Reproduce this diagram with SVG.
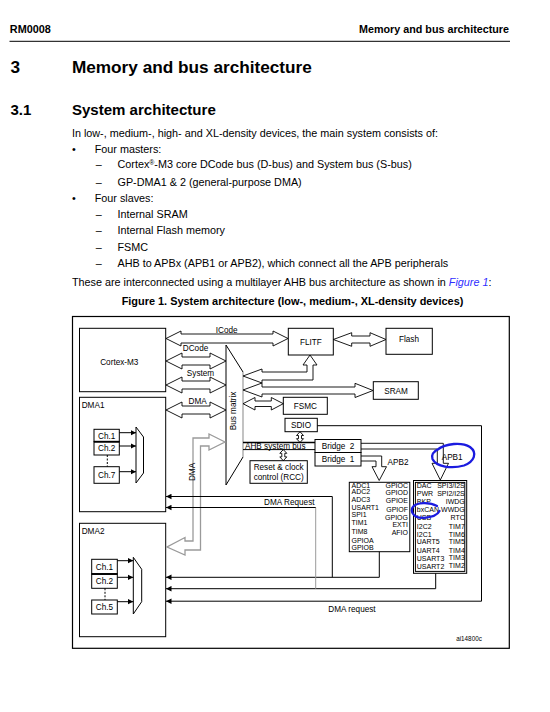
<svg xmlns="http://www.w3.org/2000/svg" width="550" height="712" viewBox="0 0 550 712">
<style>
text{font-family:"Liberation Sans",Arial,sans-serif;fill:#000}
.b{font-weight:bold}
.body{font-size:10.8px}
.lbl{font-size:8.2px}
.sm{font-size:7px}
.mid{text-anchor:middle}
.end{text-anchor:end}
.box{fill:none;stroke:#000;stroke-width:1}
.ln{fill:none;stroke:#000;stroke-width:1}
.hol{fill:none;stroke:#000;stroke-width:0.9}
.gry{fill:none;stroke:#9a9a9a;stroke-width:1.3}
.arr{fill:none;stroke:#000;stroke-width:1;marker-end:url(#ah)}
.blue{fill:none;stroke:#1b1bdf;stroke-width:2.3;stroke-linecap:round;stroke-linejoin:round}
</style>
<defs>
<marker id="ah" viewBox="0 0 6 6" refX="6" refY="3" markerWidth="5.5" markerHeight="6" markerUnits="userSpaceOnUse" orient="auto">
<path d="M0,0 L6,3 L0,6 Z" fill="#000"/>
</marker>
</defs>
<rect width="550" height="712" fill="#fff"/>

<g id="page">
<text class="b" x="9.8" y="33.3" font-size="10px" textLength="41" lengthAdjust="spacingAndGlyphs">RM0008</text>
<text class="b end" x="509" y="33.3" font-size="10.6px" textLength="150" lengthAdjust="spacingAndGlyphs">Memory and bus architecture</text>
<line x1="9.5" y1="41.3" x2="510" y2="41.3" stroke="#000" stroke-width="1"/>
<text class="b" x="10.5" y="73.3" font-size="17.2px">3</text>
<text class="b" x="71.9" y="73.3" font-size="17.2px" textLength="240" lengthAdjust="spacingAndGlyphs">Memory and bus architecture</text>
<text class="b" x="10.5" y="114.5" font-size="15px">3.1</text>
<text class="b" x="71.9" y="114.5" font-size="15px" textLength="143.9" lengthAdjust="spacingAndGlyphs">System architecture</text>
<text class="body" x="71.9" y="136.6">In low-, medium-, high- and XL-density devices, the main system consists of:</text>
<text class="body" x="71.9" y="152.5">•</text>
<text class="body" x="94.7" y="152.5">Four masters:</text>
<text class="body" x="95.8" y="168.4">–</text>
<text class="body" x="117.5" y="168.4">Cortex<tspan font-size="6.8px" dy="-3.7">®</tspan><tspan dy="3.7">-M3 core DCode bus (D-bus) and System bus (S-bus)</tspan></text>
<text class="body" x="95.8" y="185.6">–</text>
<text class="body" x="117.5" y="185.6">GP-DMA1 &amp; 2 (general-purpose DMA)</text>
<text class="body" x="71.9" y="201.6">•</text>
<text class="body" x="94.7" y="201.6">Four slaves:</text>
<text class="body" x="95.8" y="217.6">–</text>
<text class="body" x="117.5" y="217.6">Internal SRAM</text>
<text class="body" x="95.8" y="233.6">–</text>
<text class="body" x="117.5" y="233.6">Internal Flash memory</text>
<text class="body" x="95.8" y="250.5">–</text>
<text class="body" x="117.5" y="250.5">FSMC</text>
<text class="body" x="95.8" y="267">–</text>
<text class="body" x="117.5" y="267">AHB to APBx (APB1 or APB2), which connect all the APB peripherals</text>
<text class="body" x="71.9" y="286">These are interconnected using a multilayer AHB bus architecture as shown in <tspan fill="#2f2fff" font-style="italic">Figure 1</tspan>:</text>
<text class="b mid" x="292.5" y="304.8" font-size="10.6px" textLength="341.7" lengthAdjust="spacingAndGlyphs">Figure 1. System architecture (low-, medium-, XL-density devices)</text>
<rect id="frame" x="72.5" y="316.5" width="436.8" height="331.8" fill="none" stroke="#000" stroke-width="1.2"/>
<text class="mid" x="469" y="641" font-size="6.3px">ai14800c</text>
</g>

<g id="cortex-m3">
<rect class="box" x="79.5" y="328.3" width="86.2" height="63.4"/>
<text class="lbl mid" x="119.3" y="364.6" font-size="8.5px">Cortex-M3</text>
</g>

<g id="dma1">
<rect class="box" x="79.5" y="397.3" width="86.2" height="114.4"/>
<text class="lbl" x="81.7" y="407.8">DMA1</text>
<rect class="box" x="94" y="429.3" width="25.3" height="12.4"/>
<rect class="box" x="94" y="441.7" width="25.3" height="13.3"/>
<line x1="94" y1="441.7" x2="119.3" y2="441.7" stroke="#000" stroke-width="1.8"/>
<rect class="box" x="94" y="466.7" width="25.3" height="16.6"/>
<line x1="107.3" y1="455" x2="107.3" y2="466.7" stroke="#000" stroke-width="1" stroke-dasharray="2,1.5"/>
<text class="lbl mid" x="106.7" y="438.6">Ch.1</text>
<text class="lbl mid" x="106.7" y="451.4">Ch.2</text>
<text class="lbl mid" x="106.7" y="478">Ch.7</text>
<path class="ln" d="M136,427 L143.5,437 L143.5,473 L136,483 Z"/>
<path class="arr" d="M119.3,432.7 H136"/>
<path class="arr" d="M119.3,446 H136"/>
<path class="arr" d="M119.3,471.7 H136"/>
</g>

<g id="dma2">
<rect class="box" x="79.5" y="523.3" width="86.2" height="113.4"/>
<text class="lbl" x="81.7" y="534.2">DMA2</text>
<rect class="box" x="91.7" y="559.3" width="25.6" height="14.7"/>
<rect class="box" x="91.7" y="574" width="25.6" height="14.3"/>
<line x1="91.7" y1="574" x2="117.3" y2="574" stroke="#000" stroke-width="1.8"/>
<rect class="box" x="91.7" y="600" width="25.6" height="14"/>
<line x1="105" y1="588.3" x2="105" y2="600" stroke="#000" stroke-width="1" stroke-dasharray="2,1.5"/>
<text class="lbl mid" x="104.5" y="569.5">Ch.1</text>
<text class="lbl mid" x="104.5" y="584">Ch.2</text>
<text class="lbl mid" x="104.5" y="610">Ch.5</text>
<path class="ln" d="M133.3,557.3 L141.7,569.3 L141.7,601.7 L133.3,614 Z"/>
<path class="arr" d="M117.3,560.7 H133.3"/>
<path class="arr" d="M117.3,577.3 H133.3"/>
<path class="arr" d="M117.3,601.7 H133.3"/>
</g>

<g id="bus-matrix">
<path class="ln" d="M243,372 L226,345 L226,485 L243,457"/>
<path d="M243,372 V457" stroke="#9a9a9a" stroke-width="1.2" fill="none"/>
<text class="lbl mid" transform="translate(236.4,411) rotate(-90)">Bus matrix</text>
</g>

<g id="flitf">
<rect class="box" x="288.3" y="328.3" width="45" height="26.7"/>
<text class="lbl mid" x="310.8" y="344.6">FLITF</text>
</g>
<g id="flash">
<rect class="box" x="386" y="328.3" width="46.3" height="26"/>
<text class="lbl mid" x="409" y="342.2">Flash</text>
</g>
<g id="sram">
<rect class="box" x="373.3" y="381.7" width="45" height="17.6"/>
<text class="lbl mid" x="396" y="394">SRAM</text>
</g>
<g id="fsmc">
<rect class="box" x="283.3" y="397.3" width="44" height="17"/>
<text class="lbl mid" x="305.3" y="409">FSMC</text>
</g>
<g id="sdio">
<rect class="box" x="285" y="418.3" width="32.3" height="13.4"/>
<text class="lbl mid" x="301" y="428">SDIO</text>
</g>
<g id="rcc">
<rect class="box" x="250" y="460.7" width="57.3" height="22.6"/>
<text class="lbl mid" x="278.7" y="470.2">Reset &amp; clock</text>
<text class="lbl mid" x="278.7" y="480.2">control (RCC)</text>
</g>
<g id="bridge2">
<rect class="box" x="315" y="439.5" width="46" height="13"/>
<text class="lbl mid" x="338" y="449" word-spacing="2">Bridge 2</text>
</g>
<g id="bridge1">
<rect class="box" x="315" y="452.5" width="46" height="13.5"/>
<text class="lbl mid" x="338" y="462.2" word-spacing="2">Bridge 1</text>
</g>

<g id="apb2">
<rect class="box" x="349.3" y="482.3" width="60.5" height="69.4" stroke-width="1.2"/>
<g class="sm">
<text x="351.5" y="487.6">ADC1</text>
<text x="351.5" y="494.3">ADC2</text>
<text x="351.5" y="501.8">ADC3</text>
<text x="351.5" y="510.2">USART1</text>
<text x="351.5" y="516.9">SPI1</text>
<text x="351.5" y="525.2">TIM1</text>
<text x="351.5" y="534.2">TIM8</text>
<text x="351.5" y="543.2">GPIOA</text>
<text x="351.5" y="549.9">GPIOB</text>
<text class="end" x="408" y="487.6">GPIOC</text>
<text class="end" x="408" y="495.2">GPIOD</text>
<text class="end" x="408" y="503.2">GPIOE</text>
<text class="end" x="408" y="511.8">GPIOF</text>
<text class="end" x="408" y="519.8">GPIOG</text>
<text class="end" x="408" y="526.5">EXTI</text>
<text class="end" x="408" y="534.5">AFIO</text>
</g>
</g>

<g id="apb1">
<rect class="box" x="413.5" y="480.5" width="53.2" height="92.8"/>
<rect class="box" x="415.4" y="482.4" width="49.4" height="89"/>
<g class="sm">
<text x="416.8" y="487.5">DAC</text>
<text x="416.8" y="495.8">PWR</text>
<text x="416.8" y="503.5">BKP</text>
<text x="416.8" y="511.8">bxCAN</text>
<text x="416.8" y="519.8">USB</text>
<text x="416.8" y="528.5">I2C2</text>
<text x="416.8" y="536.5">I2C1</text>
<text x="416.8" y="544.2">UART5</text>
<text x="416.8" y="552.5">UART4</text>
<text x="416.8" y="560.8">USART3</text>
<text x="416.8" y="569.2">USART2</text>
<text class="end" x="464.8" y="487.5">SPI3/I2S</text>
<text class="end" x="464.8" y="495.8">SPI2/I2S</text>
<text class="end" x="464.8" y="503.5">IWDG</text>
<text class="end" x="464.8" y="511.8">WWDG</text>
<text class="end" x="464.8" y="519.8">RTC</text>
<text class="end" x="464.8" y="528.5">TIM7</text>
<text class="end" x="464.8" y="536.5">TIM6</text>
<text class="end" x="464.8" y="544.2">TIM5</text>
<text class="end" x="464.8" y="552.5">TIM4</text>
<text class="end" x="464.8" y="559.8">TIM3</text>
<text class="end" x="464.8" y="568.2">TIM2</text>
</g>
</g>

<g id="connectors">
<path class="hol" d="M166,338.5 L181,331 L181,334 L273,334 L273,331 L288,338.5 L273,346 L273,343 L181,343 L181,346 Z"/>
<text class="lbl mid" x="226.7" y="332.8">ICode</text>
<path class="hol" d="M166,361 L182,353 L182,357 L210,357 L210,353 L226,361 L210,369 L210,365 L182,365 L182,369 Z"/>
<text class="lbl mid" x="195.5" y="351.2">DCode</text>
<path class="hol" d="M166,385 L182,377 L182,381 L210,381 L210,377 L226,385 L210,393 L210,389 L182,389 L182,393 Z"/>
<text class="lbl mid" x="200.5" y="376.3">System</text>
<path class="hol" d="M166,410 L182,402 L182,406 L210,406 L210,402 L226,410 L210,418 L210,414 L182,414 L182,418 Z"/>
<text class="lbl mid" x="197.7" y="403.7">DMA</text>
<path class="gry" d="M225,442 L209,434 L209,438 L193,438 L193,541 L185,541 L185,537.5 L167,547 L185,555 L185,550 L200.5,550 L200.5,446 L209,446 L209,450 Z"/>
<text class="lbl mid" transform="translate(195.2,472) rotate(-90)">DMA</text>
<path class="hol" d="M243,376 L262,369 L262,372 L307,372 L307,365 L303,365 L310,355 L317,365 L313,365 L313,380 L262,380 L262,383 Z"/>
<path class="hol" d="M243,390 L262,383 L262,387 L355,387 L355,383.3 L373,390.5 L355,397.5 L355,394 L262,394 L262,397 Z"/>
<path class="hol" d="M243,403.7 L255,397.5 L255,401 L271.3,401 L271.3,397.5 L283.3,403.7 L271.3,410 L271.3,406.5 L255,406.5 L255,410 Z"/>
<path class="hol" d="M333.3,339.5 L351.7,332.7 L351.7,336 L370,336 L370,332.7 L386,339.5 L370,346.3 L370,343 L351.7,343 L351.7,346.3 Z"/>
<line x1="243" y1="442.5" x2="315" y2="442.5" stroke="#000" stroke-width="1.3"/>
<line x1="243" y1="449.6" x2="315" y2="449.6" stroke="#000" stroke-width="1"/>
<text class="lbl" x="245" y="449" font-size="8.1px">AHB system bus</text>
<path class="hol" d="M300,431.7 L303.5,435.5 L301.5,435.5 L301.5,438.7 L303.5,438.7 L300,442.5 L296.5,438.7 L298.5,438.7 L298.5,435.5 L296.5,435.5 Z"/>
<path class="hol" d="M283.3,449.6 L286.8,453.3 L284.8,453.3 L284.8,456.9 L286.8,456.9 L283.3,460.7 L279.8,456.9 L281.8,456.9 L281.8,453.3 L279.8,453.3 Z"/>
<path class="hol" d="M361,443.3 H443.3 V463.3 H448.5 L440.3,480 L432,463.3 H437.3 V449 H361"/>
<path class="hol" d="M361,456 H381.7 V466.7 H386.5 L379.2,480.5 L372,466.7 H376 V461 H361"/>
<text class="lbl" x="387.5" y="464.6">APB2</text>
<text class="lbl" x="441.7" y="459.8">APB1</text>
<path class="arr" d="M379.3,551.7 V577.3 H166"/>
<path class="arr" d="M332.3,577.3 V496.5 H166"/>
<path class="arr" d="M435.7,573.3 V588.7 H166"/>
<path d="M315.7,588.7 V507.5" stroke="#9a9a9a" stroke-width="1" fill="none"/>
<path class="arr" d="M315.7,507.5 H166"/>
<path class="arr" d="M317.3,425.7 H481.5 V601.2 H166"/>
<text class="lbl end" x="314.5" y="505">DMA Request</text>
<text class="lbl" x="328.3" y="611.8">DMA request</text>
</g>

<g id="annotations">
<path class="blue" d="M437,450 C446,443 462,442 470,447 C478,453 474,462 464,465.5 C452,469 436,467 432.5,459 C431,455 434,451 440,448"/>
<path class="blue" d="M437,506 C430,502 416,502 412.5,507.5 C410,513 415,518.5 424,517.8 C431,517.3 437,516 439.5,511"/>
</g>
</svg>
